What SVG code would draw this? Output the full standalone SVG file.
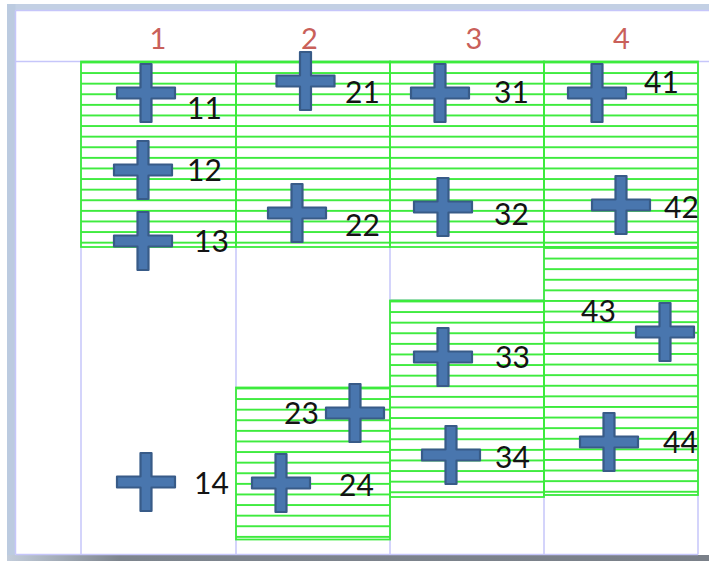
<svg xmlns="http://www.w3.org/2000/svg" width="709" height="561" viewBox="0 0 709 561">
  <defs>
    <pattern id="hatch" width="20" height="10.6" patternUnits="userSpaceOnUse">
      <rect x="0" y="0" width="20" height="1.9" fill="#3ceb3c"/>
    </pattern>
    <linearGradient id="shadow" x1="0" y1="0" x2="1" y2="0">
      <stop offset="0" stop-color="#c3cddb"/>
      <stop offset="0.16" stop-color="#7e858e"/>
      <stop offset="1" stop-color="#7a8089"/>
    </linearGradient>
    <path id="cross" d="M-5.5,-29 H5.5 V-5.5 H29 V5.5 H5.5 V29 H-5.5 V5.5 H-29 V-5.5 H-5.5 Z"/>
  </defs>
  <style>
    .grid { stroke: #c6c6fa; stroke-width: 1.5; fill: none; }
    .block { fill: url(#hatch); }
    .edge { fill: none; stroke: #3ceb3c; stroke-width: 1.8; }
    .plus { fill: #4976ae; stroke: #385b88; stroke-width: 2.2; stroke-linejoin: round; }
    .col { font-family: Lato, "Liberation Sans", sans-serif; font-size: 29px; fill: #c9605a; text-anchor: middle; }
    .lbl { font-family: Lato, "Liberation Sans", sans-serif; font-size: 30px; fill: #141414; }
  </style>

  <!-- sheet background and window frame -->
  <rect x="0" y="0" width="709" height="561" fill="#ffffff"/>
  <rect x="7" y="4" width="702" height="6.5" fill="#c3d0e4"/>
  <rect x="7" y="4" width="8.5" height="557" fill="#bccbe0"/>
  <rect x="7" y="555" width="702" height="6" fill="url(#shadow)"/>

  <!-- grid lines -->
  <g id="grid">
    <path class="grid" d="M15.5,10.5 H709 M15.5,10.5 V554.5 M15.5,554.5 H698 M15.5,61.5 H709"/>
    <path class="grid" d="M81,61.5 V554.5 M236,61.5 V554.5 M390,61.5 V554.5 M544,61.5 V554.5 M698,61.5 V554.5"/>
    <path class="grid" d="M390,300 H544 M544,495 H698"/>
  </g>

  <!-- hatched regions -->
  <g id="regions">
    <g transform="translate(81,61.5)"><rect class="block" width="155" height="185.5"/><rect class="edge" width="155" height="185.5"/></g>
    <g transform="translate(236,61.5)"><rect class="block" width="154" height="185.5"/><rect class="edge" width="154" height="185.5"/></g>
    <g transform="translate(390,61.5)"><rect class="block" width="154" height="185.5"/><rect class="edge" width="154" height="185.5"/></g>
    <g transform="translate(544,61.5)"><rect class="block" width="154" height="185.5"/><rect class="edge" width="154" height="185.5"/></g>
    <g transform="translate(544,247)"><rect class="block" width="154" height="248"/><rect class="edge" width="154" height="248"/></g>
    <g transform="translate(390,300.5)"><rect class="block" width="154" height="196.5"/><rect class="edge" width="154" height="196.5"/></g>
    <g transform="translate(236,387.5)"><rect class="block" width="154" height="152"/><rect class="edge" width="154" height="152"/></g>
  </g>

  <!-- column headers -->
  <g id="headers">
    <text class="col" x="158" y="49">1</text>
    <text class="col" x="309.5" y="49">2</text>
    <text class="col" x="474" y="49">3</text>
    <text class="col" x="621.5" y="49">4</text>
  </g>

  <!-- numbered markers -->
  <g id="n11"><use href="#cross" class="plus" x="146" y="93"/><text class="lbl" x="187" y="119">11</text></g>
  <g id="n12"><use href="#cross" class="plus" x="143" y="170"/><text class="lbl" x="187" y="181">12</text></g>
  <g id="n13"><use href="#cross" class="plus" x="143" y="241"/><text class="lbl" x="194" y="251.5">13</text></g>
  <g id="n14"><use href="#cross" class="plus" x="146" y="482"/><text class="lbl" x="194" y="494">14</text></g>
  <g id="n21"><use href="#cross" class="plus" x="305.5" y="81"/><text class="lbl" x="345" y="102.5">21</text></g>
  <g id="n22"><use href="#cross" class="plus" x="297" y="213"/><text class="lbl" x="345" y="236">22</text></g>
  <g id="n23"><use href="#cross" class="plus" x="355" y="413"/><text class="lbl" x="284" y="424">23</text></g>
  <g id="n24"><use href="#cross" class="plus" x="281" y="483"/><text class="lbl" x="339" y="496">24</text></g>
  <g id="n31"><use href="#cross" class="plus" x="440" y="93"/><text class="lbl" x="494" y="103">31</text></g>
  <g id="n32"><use href="#cross" class="plus" x="443" y="207"/><text class="lbl" x="494" y="225">32</text></g>
  <g id="n33"><use href="#cross" class="plus" x="443" y="357"/><text class="lbl" x="495" y="368">33</text></g>
  <g id="n34"><use href="#cross" class="plus" x="451" y="455"/><text class="lbl" x="495" y="468">34</text></g>
  <g id="n41"><use href="#cross" class="plus" x="597" y="93"/><text class="lbl" x="644" y="93">41</text></g>
  <g id="n42"><use href="#cross" class="plus" x="621" y="205"/><text class="lbl" x="664" y="218">42</text></g>
  <g id="n43"><use href="#cross" class="plus" x="665" y="332"/><text class="lbl" x="581" y="322">43</text></g>
  <g id="n44"><use href="#cross" class="plus" x="609" y="442"/><text class="lbl" x="663" y="452.5">44</text></g>
</svg>
